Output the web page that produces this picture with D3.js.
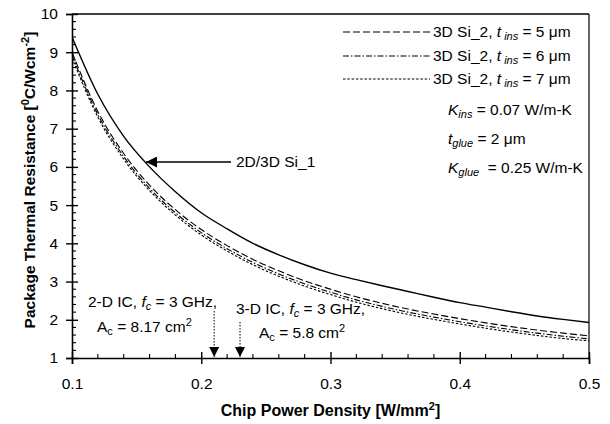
<!DOCTYPE html>
<html>
<head>
<meta charset="utf-8">
<script src="https://cdn.jsdelivr.net/npm/d3@7"></script>
<style>
  html, body { margin: 0; padding: 0; background: #fff; }
  svg { display: block; font-family: "Liberation Sans", Arial, Helvetica, sans-serif; }
</style>
</head>
<body>
<svg id="chart" width="610" height="424"></svg>
<script>
// Chip power density (W/mm^2)
const powerDensity = [0.10, 0.12, 0.14, 0.16, 0.18, 0.20, 0.22, 0.24, 0.26, 0.28, 0.30,
                      0.32, 0.34, 0.36, 0.38, 0.40, 0.42, 0.44, 0.46, 0.48, 0.50];
// Required package thermal resistance (°C/W·cm^-2)
const si1     = [9.40, 7.90, 6.80, 6.00, 5.35, 4.80, 4.38, 4.00, 3.70, 3.44, 3.22,
                 3.05, 2.89, 2.74, 2.59, 2.45, 2.33, 2.21, 2.10, 2.01, 1.93];
const si2t5   = [9.00, 7.45, 6.35, 5.52, 4.88, 4.36, 3.94, 3.58, 3.28, 3.02, 2.80,
                 2.60, 2.43, 2.28, 2.15, 2.03, 1.92, 1.82, 1.73, 1.65, 1.58];
const si2t6   = [8.92, 7.37, 6.27, 5.44, 4.80, 4.28, 3.86, 3.50, 3.20, 2.94, 2.72,
                 2.52, 2.35, 2.20, 2.07, 1.95, 1.84, 1.74, 1.65, 1.57, 1.50];
const si2t7   = [8.85, 7.30, 6.20, 5.38, 4.74, 4.22, 3.80, 3.44, 3.14, 2.88, 2.66,
                 2.46, 2.29, 2.14, 2.01, 1.89, 1.78, 1.68, 1.59, 1.51, 1.45];

const xTicks = [0.1, 0.2, 0.3, 0.4, 0.5];
const yTicks = [1, 2, 3, 4, 5, 6, 7, 8, 9, 10];
// Operating points marked on the x axis
const markers = [0.21, 0.23];

const svg = d3.select("#chart");
const plotLeft = 72, plotRight = 589, plotTop = 14, plotBottom = 358;

const x = d3.scaleLinear().domain([0.1, 0.5]).range([plotLeft, plotRight]);
const y = d3.scaleLinear().domain([1, 10]).range([plotBottom, plotTop]);

const line = d3.line().x(d => x(d[0])).y(d => y(d[1])).curve(d3.curveMonotoneX);

const series = [
  { vals: si1,   dash: null,          w: 1.4 },
  { vals: si2t5, dash: "7,3",         w: 1.1 },
  { vals: si2t6, dash: "6,2,1.5,2",   w: 1.1 },
  { vals: si2t7, dash: "2.5,1.8",     w: 1.1 }
];

const defs = svg.append("defs");
defs.append("clipPath").attr("id", "clip")
  .append("rect").attr("x", plotLeft).attr("y", plotTop)
  .attr("width", plotRight - plotLeft).attr("height", plotBottom - plotTop);

series.forEach(s => {
  svg.append("path")
    .attr("clip-path", "url(#clip)")
    .attr("d", line(powerDensity.map((p, i) => [p, s.vals[i]])))
    .attr("fill", "none")
    .attr("stroke", "#000")
    .attr("stroke-width", s.w)
    .attr("stroke-dasharray", s.dash);
});

// Frame: top and right edges
svg.append("line").attr("x1", plotLeft).attr("x2", plotRight).attr("y1", plotTop).attr("y2", plotTop)
  .attr("stroke", "#000").attr("stroke-width", 1.6);
svg.append("line").attr("x1", plotRight).attr("x2", plotRight).attr("y1", plotTop).attr("y2", plotBottom)
  .attr("stroke", "#000").attr("stroke-width", 1.2);

// Axes
const xAxis = svg.append("g").attr("transform", `translate(0,${plotBottom})`)
  .call(d3.axisBottom(x).tickValues(xTicks).tickFormat(d3.format(".1f")).tickSize(6).tickPadding(14));
const yAxis = svg.append("g").attr("transform", `translate(${plotLeft},0)`)
  .call(d3.axisLeft(y).tickValues(yTicks).tickFormat(d3.format("d")).tickSize(6).tickPadding(8));

[xAxis, yAxis].forEach(g => {
  g.select(".domain").attr("stroke", "#000").attr("stroke-width", 1.6);
  g.selectAll(".tick line").attr("stroke", "#000").attr("stroke-width", 1.4);
  g.selectAll(".tick text").attr("fill", "#000").attr("font-size", 15.5)
    .attr("font-family", "Liberation Sans, Arial, sans-serif");
});
// Major ticks cross the axis line
xAxis.selectAll(".tick line").attr("y1", -6).attr("y2", 6);
yAxis.selectAll(".tick line").attr("x1", 6).attr("x2", -6);

// Minor ticks pointing inward
const xMinor = d3.range(0.12, 0.5, 0.02).filter(v => Math.abs(v * 10 - Math.round(v * 10)) > 1e-6);
svg.append("g").selectAll("line").data(xMinor).join("line")
  .attr("x1", d => x(d)).attr("x2", d => x(d)).attr("y1", plotBottom).attr("y2", plotBottom - 4)
  .attr("stroke", "#000").attr("stroke-width", 1.1);
const yMinor = d3.range(1.2, 10, 0.2).filter(v => Math.abs(v - Math.round(v)) > 1e-6);
svg.append("g").selectAll("line").data(yMinor).join("line")
  .attr("x1", plotLeft).attr("x2", plotLeft + 4).attr("y1", d => y(d)).attr("y2", d => y(d))
  .attr("stroke", "#000").attr("stroke-width", 1.1);

// Axis titles
svg.append("text").attr("x", (plotLeft + plotRight) / 2).attr("y", 416)
  .attr("text-anchor", "middle").attr("font-size", 16).attr("font-weight", "bold")
  .html('Chip Power Density [W/mm<tspan dy="-6" font-size="11">2</tspan><tspan dy="6">]</tspan>');

svg.append("text").attr("transform", `translate(35,180) rotate(-90)`)
  .attr("text-anchor", "middle").attr("font-size", 15.5).attr("font-weight", "bold")
  .html('Package Thermal Resistance [<tspan dy="-6" font-size="11">0</tspan><tspan dy="6">C/Wcm</tspan><tspan dy="-6" font-size="11">-2</tspan><tspan dy="6">]</tspan>');

// Legend
const legend = [
  { dash: "7,3",       t: "5" },
  { dash: "6,2,1.5,2", t: "6" },
  { dash: "2.5,1.8",   t: "7" }
];
const legY = [37, 61, 84];
legend.forEach((l, i) => {
  svg.append("line").attr("x1", 343).attr("x2", 430).attr("y1", legY[i] - 5).attr("y2", legY[i] - 5)
    .attr("stroke", "#000").attr("stroke-width", 1.1).attr("stroke-dasharray", l.dash);
  svg.append("text").attr("x", 433).attr("y", legY[i]).attr("font-size", 15.5)
    .html(`3D Si_2, <tspan font-style="italic">t</tspan><tspan font-style="italic" font-size="11" dy="3"> ins</tspan><tspan dy="-3"> = ${l.t} μm</tspan>`);
});

const params = [
  { y: 115, html: '<tspan font-style="italic">K</tspan><tspan font-style="italic" font-size="11" dy="3">ins</tspan><tspan dy="-3"> = 0.07 W/m-K</tspan>' },
  { y: 144, html: '<tspan font-style="italic">t</tspan><tspan font-style="italic" font-size="11" dy="3">glue</tspan><tspan dy="-3"> = 2 μm</tspan>' },
  { y: 173, html: '<tspan font-style="italic">K</tspan><tspan font-style="italic" font-size="11" dy="3">glue</tspan><tspan dy="-3">  = 0.25 W/m-K</tspan>' }
];
params.forEach(p => {
  svg.append("text").attr("x", 448).attr("y", p.y).attr("font-size", 15.5).attr("xml:space", "preserve").html(p.html);
});

// Arrow markers
defs.append("marker").attr("id", "tri").attr("viewBox", "0 0 10 10")
  .attr("refX", 10).attr("refY", 5).attr("markerWidth", 11).attr("markerHeight", 10)
  .attr("markerUnits", "userSpaceOnUse").attr("orient", "auto")
  .append("path").attr("d", "M0,0 L10,5 L0,10 Z").attr("fill", "#000");
defs.append("marker").attr("id", "triBig").attr("viewBox", "0 0 10 10")
  .attr("refX", 10).attr("refY", 5).attr("markerWidth", 12).attr("markerHeight", 11)
  .attr("markerUnits", "userSpaceOnUse").attr("orient", "auto")
  .append("path").attr("d", "M0,0 L10,5 L0,10 Z").attr("fill", "#000");

// 2D/3D Si_1 label with arrow
svg.append("line").attr("x1", 231).attr("x2", 146).attr("y1", 162).attr("y2", 162)
  .attr("stroke", "#000").attr("stroke-width", 1.3).attr("marker-end", "url(#triBig)");
svg.append("text").attr("x", 236).attr("y", 167).attr("font-size", 15.5).text("2D/3D Si_1");

// Operating point annotations
markers.forEach((m, i) => {
  svg.append("line").attr("x1", x(m)).attr("x2", x(m)).attr("y1", i === 0 ? 311 : 322).attr("y2", plotBottom - 1)
    .attr("stroke", "#000").attr("stroke-width", 1).attr("stroke-dasharray", "1.5,1.5")
    .attr("marker-end", "url(#tri)");
});

svg.append("text").attr("x", 88).attr("y", 307).attr("font-size", 15.5)
  .html('2-D IC, <tspan font-style="italic">f</tspan><tspan font-style="italic" font-size="11" dy="3">c</tspan><tspan dy="-3"> = 3 GHz,</tspan>');
svg.append("text").attr("x", 97).attr("y", 332).attr("font-size", 15.5)
  .html('A<tspan font-size="11" dy="3">c</tspan><tspan dy="-3"> = 8.17 cm</tspan><tspan font-size="11" dy="-6">2</tspan>');
svg.append("text").attr("x", 236).attr("y", 314).attr("font-size", 15.5)
  .html('3-D IC, <tspan font-style="italic">f</tspan><tspan font-style="italic" font-size="11" dy="3">c</tspan><tspan dy="-3"> = 3 GHz,</tspan>');
svg.append("text").attr("x", 259).attr("y", 338).attr("font-size", 15.5)
  .html('A<tspan font-size="11" dy="3">c</tspan><tspan dy="-3"> = 5.8 cm</tspan><tspan font-size="11" dy="-6">2</tspan>');
</script>
</body>
</html>
